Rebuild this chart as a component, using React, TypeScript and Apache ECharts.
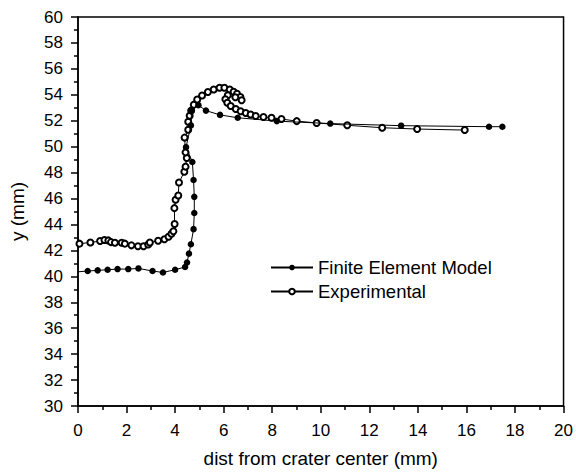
import React, { useEffect, useRef } from "react";
import * as echarts from "echarts";

// Finite Element Model (x: dist from crater center mm, y: mm)
const femX = [0, 0.40, 0.81, 1.22, 1.63, 2.07, 2.49, 3.07, 3.50, 4.00, 4.41, 4.49, 4.57, 4.65, 4.76, 4.79, 4.79, 4.76, 4.71, 4.45, 4.65, 4.68, 4.96, 5.27, 5.85, 6.58, 8.19, 10.39, 13.31, 16.93, 17.48];
const femY = [40.35, 40.41, 40.46, 40.51, 40.56, 40.56, 40.61, 40.41, 40.30, 40.51, 40.72, 41.07, 41.75, 42.47, 43.64, 44.88, 46.13, 47.43, 48.82, 49.96, 51.64, 52.80, 53.20, 52.78, 52.45, 52.23, 51.97, 51.78, 51.62, 51.54, 51.54];

// Experimental
const expX = [0.06, 0.51, 0.91, 1.09, 1.25, 1.36, 1.52, 1.80, 1.93, 2.20, 2.47, 2.70, 2.89, 2.96, 3.30, 3.56, 3.73, 3.85, 3.93, 3.98, 3.97, 4.02, 4.13, 4.16, 4.38, 4.43, 4.48, 4.43, 4.39, 4.54, 4.54, 4.60, 4.66, 4.77, 4.91, 5.11, 5.35, 5.59, 5.83, 6.03, 6.25, 6.41, 6.55, 6.69, 6.74, 6.48, 6.17, 6.07, 6.15, 6.29, 6.50, 6.70, 6.91, 7.11, 7.32, 7.64, 7.97, 8.38, 9.01, 9.83, 11.09, 12.53, 13.97, 15.93];
const expY = [42.52, 42.61, 42.72, 42.80, 42.77, 42.64, 42.59, 42.59, 42.52, 42.39, 42.32, 42.32, 42.45, 42.61, 42.74, 42.86, 43.05, 43.29, 43.48, 44.04, 45.26, 45.90, 46.23, 47.24, 48.06, 48.46, 49.12, 49.56, 50.70, 51.31, 51.92, 52.38, 52.78, 53.24, 53.64, 53.95, 54.21, 54.41, 54.54, 54.54, 54.41, 54.23, 54.08, 53.83, 53.58, 53.81, 53.96, 53.66, 53.39, 53.13, 52.90, 52.73, 52.59, 52.48, 52.36, 52.29, 52.23, 52.13, 51.97, 51.83, 51.65, 51.46, 51.36, 51.28];

const seriesNames = ["Finite Element Model", "Experimental"];
const xTitle = "dist from crater center (mm)";
const yTitle = "y (mm)";

const FONT = "'Liberation Sans', Arial, sans-serif";

export default function App() {
  const ref = useRef<HTMLDivElement>(null);
  useEffect(() => {
    if (!ref.current) return;
    const chart = echarts.init(ref.current, null, { renderer: "svg" });
    const femData = femX.map((x, i) =>
      i === 0 ? { value: [x, femY[i]], symbol: "none" } : [x, femY[i]]
    );
    const expData = expX.map((x, i) => [x, expY[i]]);
    chart.setOption({
      animation: false,
      backgroundColor: "#fff",
      textStyle: { fontFamily: FONT },
      grid: {
        left: 78,
        right: 9,
        top: 17,
        bottom: 62,
        show: true,
        borderColor: "#000",
        borderWidth: 1.5,
      },
      legend: {
        orient: "vertical",
        left: 270,
        top: 258,
        padding: 0,
        itemWidth: 42,
        itemHeight: 7,
        itemGap: 5,
        textStyle: { fontSize: 18.5, color: "#000", fontFamily: FONT },
        data: seriesNames,
      },
      xAxis: {
        type: "value",
        min: 0,
        max: 20,
        interval: 2,
        name: xTitle,
        nameLocation: "middle",
        nameGap: 43,
        nameTextStyle: { fontSize: 19, color: "#000", fontFamily: FONT },
        axisLine: { show: true, lineStyle: { color: "#000", width: 1.5 } },
        axisTick: { show: true, inside: false, length: 7, lineStyle: { color: "#000", width: 1.5 } },
        minorTick: { show: true, splitNumber: 2, length: 4, lineStyle: { color: "#000", width: 1.5 } },
        axisLabel: { fontSize: 17, color: "#000", margin: 16, fontFamily: FONT },
        splitLine: { show: false },
      },
      yAxis: {
        type: "value",
        min: 30,
        max: 60,
        interval: 2,
        name: yTitle,
        nameLocation: "middle",
        nameGap: 51,
        nameTextStyle: { fontSize: 19, color: "#000", fontFamily: FONT },
        axisLine: { show: true, lineStyle: { color: "#000", width: 1.5 } },
        axisTick: { show: true, inside: false, length: 7, lineStyle: { color: "#000", width: 1.5 } },
        minorTick: { show: true, splitNumber: 2, length: 4, lineStyle: { color: "#000", width: 1.5 } },
        axisLabel: { fontSize: 17, color: "#000", margin: 15, fontFamily: FONT },
        splitLine: { show: false },
      },
      series: [
        {
          name: seriesNames[0],
          type: "line",
          data: femData,
          symbol: "circle",
          symbolSize: 6.5,
          showAllSymbol: true,
          z: 3,
          lineStyle: { color: "#000", width: 1 },
          itemStyle: { color: "#000" },
        },
        {
          name: seriesNames[1],
          type: "line",
          data: expData,
          symbol: "emptyCircle",
          symbolSize: 6,
          showAllSymbol: true,
          z: 2,
          lineStyle: { color: "#000", width: 1 },
          itemStyle: { color: "#000", borderColor: "#000", borderWidth: 0.8 },
        },
      ],
    });
    return () => chart.dispose();
  }, []);
  return (
    <div
      ref={ref}
      style={{ position: "fixed", left: 0, top: 0, width: 576, height: 473 }}
    />
  );
}
